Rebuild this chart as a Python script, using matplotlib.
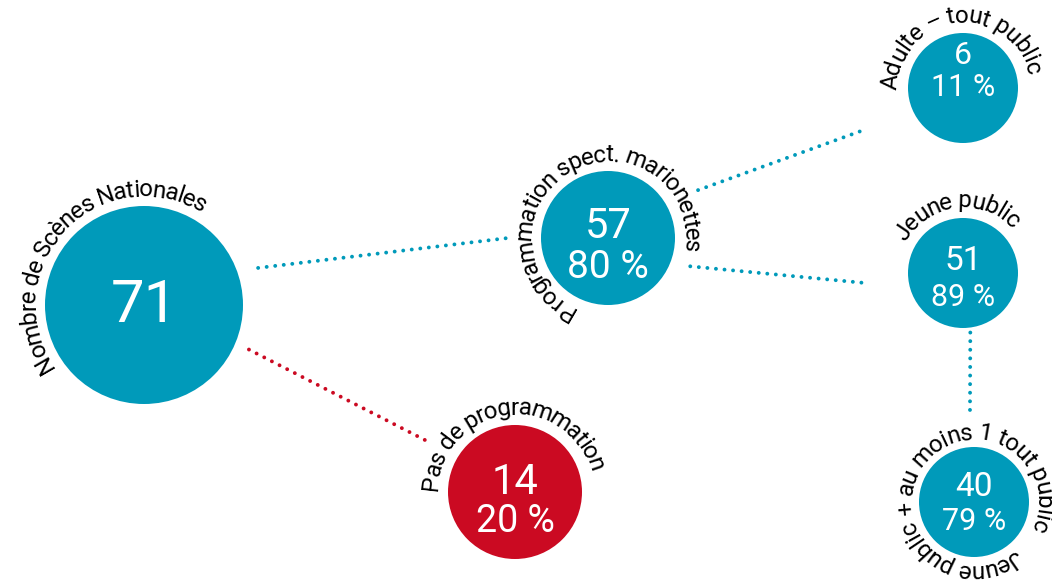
import numpy as np
import matplotlib
matplotlib.use("Agg")
import matplotlib.pyplot as plt
from matplotlib.patches import Circle
from matplotlib.font_manager import FontProperties, fontManager

# data
labels = ["Nombre de Scènes Nationales", "Programmation spect. marionettes",
          "Pas de programmation", "Adulte – tout public", "Jeune public",
          "Jeune public + au moins 1 tout public"]
counts = [71, 57, 14, 6, 51, 40]
shares = [None, 80, 20, 11, 89, 79]
links = [(0, 1), (0, 2), (1, 3), (1, 4), (4, 5)]

TEAL = "#009ABA"
RED = "#CB0A22"
colors = [TEAL, TEAL, RED, TEAL, TEAL, TEAL]

# layout (pixels, y down)
centers = [(144, 305), (608, 238), (515, 492), (963, 88), (963, 273), (974, 502)]
radii = [99, 67, 67, 55, 55, 55]
# label arc: first char angle, last char angle, radius of glyph centres
arcs = [(210, 61, 115), (239.5, -5.6, 83), (173.5, 19, 84),
        (175, 16, 72), (146, 47, 72), (305, -20.6, 69)]
# number block: y offset of the two lines, sizes
num_pos = [(0, None), (-11, 29), (-10, 30), (-33, 0), (-12, 25), (-15, 20)]
num_size = [43, 30, 30, 23, 24, 24]
pct_size = [None, 28, 27, 22, 22, 22]
# link ends as (angle, distance) from the node centre
link_ends = [((18, 120), (180, 100)), ((-23, 114), (150, 104)),
             ((28, 102), (203, 106)), ((-19, 87), (186, 97)),
             ((277, 60), (92.5, 92))]

names = {f.name for f in fontManager.ttflist}
font_family = "Roboto" if "Roboto" in names else "DejaVu Sans"

fig = plt.figure(figsize=(10.52, 5.83), dpi=100)
ax = fig.add_axes([0, 0, 1, 1])
ax.set_xlim(0, 1052)
ax.set_ylim(583, 0)
ax.axis("off")


def polar(c, ang, d):
    a = np.radians(ang)
    return c[0] + d * np.cos(a), c[1] - d * np.sin(a)


def curved_label(text, c, a0, a1, r, prop):
    rend = fig.canvas.get_renderer()
    wx = rend.get_text_width_height_descent("x", prop, ismath=False)[0]

    def adv(s):
        return rend.get_text_width_height_descent(s + "x", prop, ismath=False)[0] - wx

    mids = [(adv(text[:i]) + adv(text[:i + 1])) / 2 for i in range(len(text))]
    m0, m1 = mids[0], mids[-1]
    for ch, m in zip(text, mids):
        if ch == " ":
            continue
        ang = a0 + (a1 - a0) * (m - m0) / (m1 - m0)
        x, y = polar(c, ang, r)
        ax.text(x, y, ch, rotation=ang - 90, rotation_mode="anchor",
                ha="center", va="center", fontproperties=prop, color="black")


# links
for (i, j), (e0, e1) in zip(links, link_ends):
    x0, y0 = polar(centers[i], *e0)
    x1, y1 = polar(centers[j], *e1)
    ax.plot([x0, x1], [y0, y1], color=colors[j], lw=2.8,
            linestyle=(0, (0.01, 2.2)), dash_capstyle="round")

label_prop = FontProperties(family=font_family, size=17.5)
for k in range(len(labels)):
    cx, cy = centers[k]
    ax.add_patch(Circle((cx, cy), radii[k], color=colors[k], lw=0))
    curved_label(labels[k], centers[k], *arcs[k], label_prop)
    dy1, dy2 = num_pos[k]
    ax.text(cx, cy + dy1, str(counts[k]), ha="center", va="center", color="white",
            family=font_family, fontsize=num_size[k])
    if shares[k] is not None:
        ax.text(cx, cy + dy2, f"{shares[k]} %", ha="center", va="center", color="white",
                family=font_family, fontsize=pct_size[k])

fig.savefig("out.png", dpi=100)
